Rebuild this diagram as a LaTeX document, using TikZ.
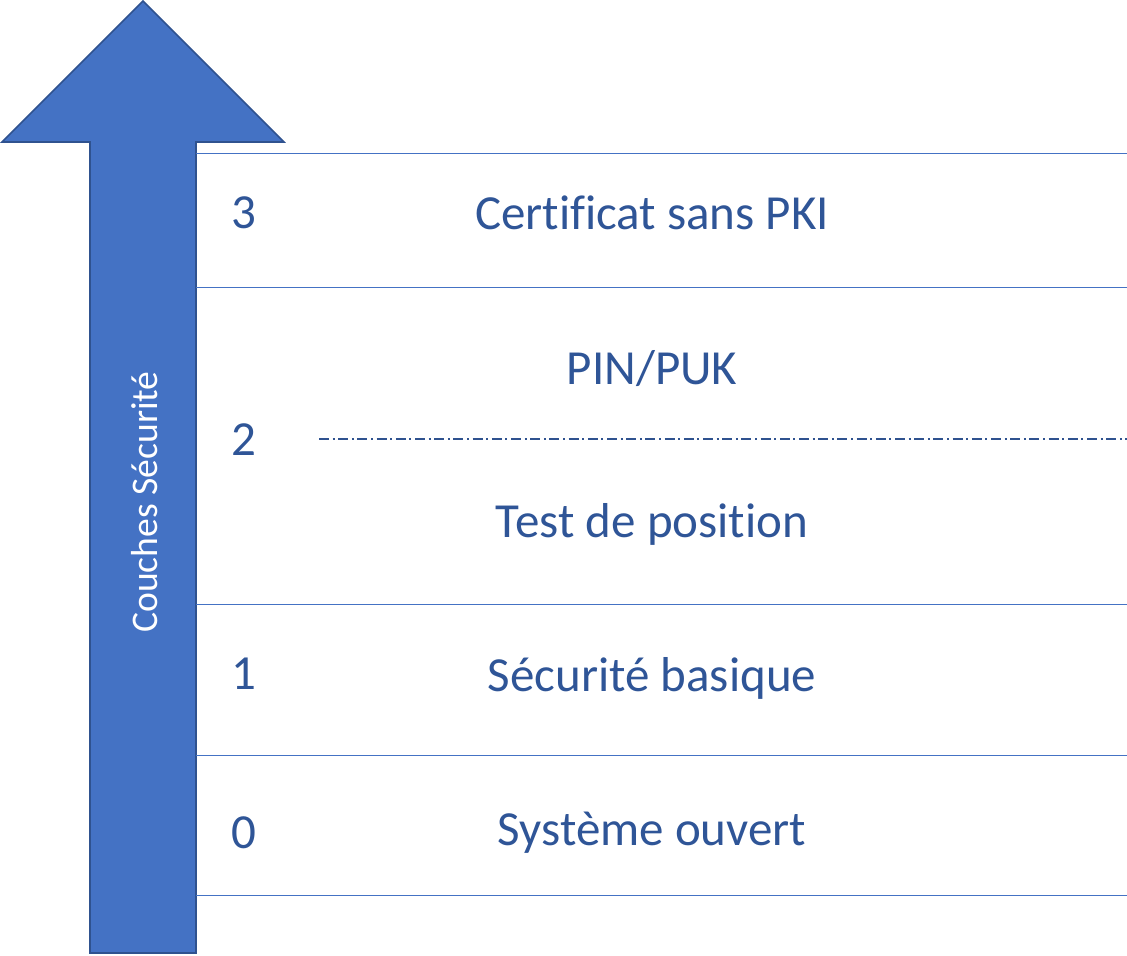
\documentclass[tikz,border=0pt]{standalone}
\usepackage{fontspec}
\setmainfont[RawFeature={-liga;-clig;-dlig;-rlig;-calt}]{Carlito}
\usepackage{xcolor}
\definecolor{arrowblue}{HTML}{4472C4}
\definecolor{edgeblue}{HTML}{2F528F}
\definecolor{textblue}{HTML}{2F5597}
\tikzset{
  layer/.style={text=textblue,font=\fontsize{24.5}{29}\selectfont,inner sep=0pt},
  sep/.style={draw=arrowblue,line width=0.5pt},
  subsep/.style={draw=edgeblue,line width=0.7pt,dash pattern=on 5pt off 1.8pt on 1pt off 1.8pt}
}
\begin{document}
\begin{tikzpicture}[x=0.5pt,y=-0.5pt]
		\useasboundingbox (0,0) rectangle (1127,955);
		% big arrow
		\draw[fill=arrowblue,draw=edgeblue,line width=0.8pt,line join=miter]
		(90,953) -- (90,142) -- (2,142) -- (143,1) -- (284,142) -- (196,142) -- (196,953) -- cycle;
		\node[text=white,font=\fontsize{18.8}{22}\selectfont,rotate=90,inner sep=0pt] (arrowlabel) at (145,502) {Couches Sécurité};
		%
		\coordinate (s0) at (196,153);
		\coordinate (e0) at (1127,153);
		\coordinate (s1) at (196,287);
		\coordinate (e1) at (1127,287);
		\coordinate (s2) at (196,604);
		\coordinate (e2) at (1127,604);
		\coordinate (s3) at (196,755);
		\coordinate (e3) at (1127,755);
		\coordinate (s4) at (196,895);
		\coordinate (e4) at (1127,895);
		\coordinate (d0) at (319,439);
		\coordinate (d1) at (1127,439);
		\path[sep]
		(s0) edge (e0)
		(s1) edge (e1)
		(s2) edge (e2)
		(s3) edge (e3)
		(s4) edge (e4);
		\draw[subsep] (d0) -- (d1);
		%
		\node[layer] (N3) at (244,213) {3};
		\node[layer] (N2) at (244,440) {2};
		\node[layer] (N1) at (244,674) {1};
		\node[layer] (N0) at (244,833) {0};
		\node[layer] (L3) at (652,213) {Certif\kern0pt icat sans PKI};
		\node[layer] (L2a) at (652,369) {PIN/PUK};
		\node[layer] (L2b) at (652,524) {Test de posit\kern0pt ion};
		\node[layer] (L1) at (652,678) {Sécurité basique};
		\node[layer] (L0) at (652,833) {Système ouvert};
		\end{tikzpicture}
\end{document}
